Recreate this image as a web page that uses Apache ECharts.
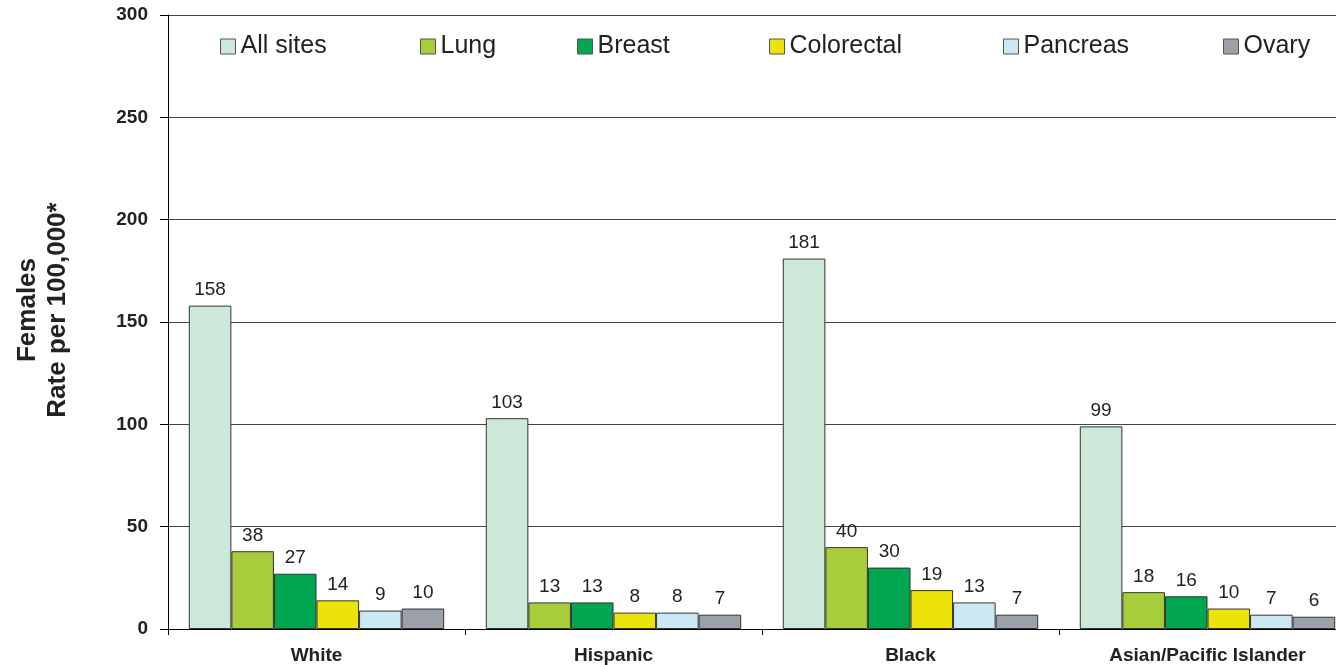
<!DOCTYPE html>
<html>
<head>
<meta charset="utf-8">
<script src="https://cdn.jsdelivr.net/npm/echarts@6/dist/echarts.min.js"></script>
<style>
  html, body { margin: 0; padding: 0; background: #fff; overflow: hidden; }
  /* plot runs a little past the right edge of the window, like the original */
  #chart { width: 1356px; height: 665px; }
</style>
</head>
<body>
<div id="chart"></div>
<script>
// groups along the x axis
const categories = ['White', 'Hispanic', 'Black', 'Asian/Pacific Islander'];

// rate per 100,000, one array per cancer site
const allSites = [158, 103, 181, 99];
const lung = [38, 13, 40, 18];
const breast = [27, 13, 30, 16];
const colorectal = [14, 8, 19, 10];
const pancreas = [9, 8, 13, 7];
const ovary = [10, 7, 7, 6];

const seriesNames = ['All sites', 'Lung', 'Breast', 'Colorectal', 'Pancreas', 'Ovary'];
const seriesData = [allSites, lung, breast, colorectal, pancreas, ovary];
const seriesColors = ['#cce8d8', '#a8cd3a', '#00a650', '#ece30a', '#cce8f4', '#9ba1a9'];

// where each legend entry starts (px from left)
const legendLeft = [215, 415, 572, 764, 998, 1218];

const font = '"Liberation Sans", Arial, Helvetica, sans-serif';

const chart = echarts.init(document.getElementById('chart'));

chart.setOption({
  animation: false,
  textStyle: { fontFamily: font },
  grid: {
    left: 168,
    right: 0,
    top: 15,
    bottom: 36
  },
  legend: seriesNames.map((name, i) => ({
    data: [name],
    left: legendLeft[i],
    top: 29,
    icon: 'rect',
    itemWidth: 15,
    itemHeight: 15,
    itemGap: 12,
    itemStyle: { borderColor: '#555', borderWidth: 1 },
    textStyle: { fontSize: 25, color: '#222', fontFamily: font }
  })),
  xAxis: {
    type: 'category',
    data: categories,
    axisLine: { lineStyle: { color: '#000', width: 1 } },
    axisTick: { show: true, length: 6, lineStyle: { color: '#000' } },
    axisLabel: {
      fontSize: 19,
      fontWeight: 'bold',
      color: '#222',
      margin: 17
    }
  },
  yAxis: {
    type: 'value',
    min: 0,
    max: 300,
    interval: 50,
    name: 'Females\nRate per 100,000*',
    nameLocation: 'middle',
    nameGap: 95,
    nameTextStyle: {
      fontSize: 26,
      fontWeight: 'bold',
      color: '#222',
      lineHeight: 30,
      padding: [0, 0, 0, 24]
    },
    axisLine: { show: true, lineStyle: { color: '#000', width: 1 } },
    axisTick: { show: true, length: 8, lineStyle: { color: '#000' } },
    axisLabel: {
      fontSize: 19,
      fontWeight: 'bold',
      color: '#222',
      margin: 20
    },
    splitLine: { lineStyle: { color: '#444', width: 1 } }
  },
  series: seriesNames.map((name, i) => ({
    name: name,
    type: 'bar',
    data: seriesData[i],
    barGap: '0%',
    barCategoryGap: '14%',
    itemStyle: {
      color: seriesColors[i],
      borderColor: '#333',
      borderWidth: 1
    },
    label: {
      show: true,
      position: 'top',
      distance: 6,
      fontSize: 19,
      color: '#222'
    }
  }))
});
</script>
</body>
</html>
